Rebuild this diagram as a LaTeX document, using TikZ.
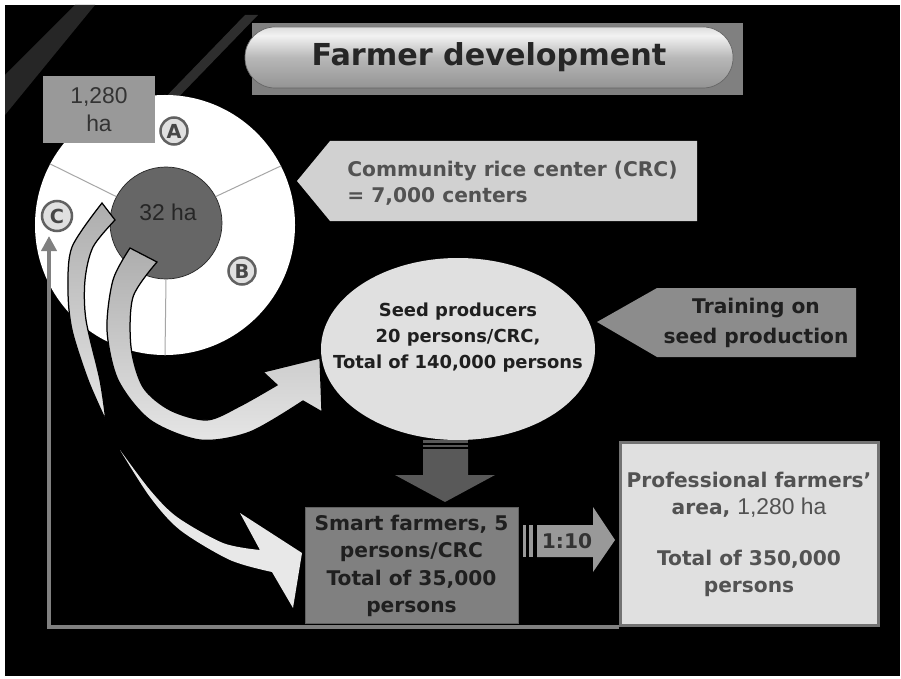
\documentclass[tikz,border=0pt]{standalone}
\usepackage{fontspec}
\setmainfont{DejaVu Sans}
\newfontfamily\arialfont{Liberation Sans}
\usetikzlibrary{arrows.meta, positioning, shapes, calc}
\pgfdeclareverticalshading{pill}{100bp}{color(0bp)=(black!50); color(25bp)=(black!42); color(50bp)=(black!28);
    color(68bp)=(black!5); color(82bp)=(black!22); color(100bp)=(black!55)}

\begin{document}
\begin{tikzpicture}[
    x=0.2mm, y=-0.2mm,
    bold/.style={font=\bfseries\fontsize{11.5}{14.8}\selectfont, align=center, inner sep=0pt},
    titlebar/.style={rectangle, rounded corners=6mm, minimum width=97.6mm, minimum height=12.2mm,
        shading=pill, draw=black!60,
        font=\bfseries\fontsize{17.2}{20}\selectfont, text=black!85},
    areabox/.style={rectangle, fill=black!40, minimum width=22.4mm, minimum height=13.4mm,
        font=\arialfont\fontsize{13}{16}\selectfont, text=black!80, align=center, inner sep=0pt},
    letter/.style={circle, draw=black!62, line width=0.5mm, fill=black!12, minimum size=5.4mm,
        inner sep=0pt, font=\bfseries\fontsize{11}{11}\selectfont, text=black!72},
    field/.style={circle, fill=white, minimum size=52mm, inner sep=0pt},
    hub/.style={circle, fill=black!60, draw=black!85, minimum size=22.4mm, inner sep=0pt},
    divider/.style={black!35, line width=0.2mm},
    callout/.style={fill=black!18},
    band/.style={draw=black, line width=0.25mm, top color=black!32, bottom color=black!10},
    thinband/.style={fill=black!9},
    blockarr/.style={fill=black!65},
    ratioarr/.style={fill=black!40},
    smartbox/.style={rectangle, fill=black!50, draw=black!62, minimum width=42.6mm, minimum height=23.2mm},
    profbox/.style={rectangle, fill=black!12, draw=black!55, line width=0.6mm,
        minimum width=51.6mm, minimum height=36.6mm},
    backline/.style={draw=black!50, line width=0.8mm, -{Triangle[length=3mm, width=3mm]}}
]
    % Background
    \useasboundingbox (0,0) rectangle (901,678);
    \fill[white] (0,0) rectangle (901,678);
    \fill[black] (5,5) rectangle (900,676);
    \fill[black!85] (5,75) -- (75,5) -- (95,5) -- (5,115) -- cycle;
    \fill[black!82] (155,108) -- (245,15) -- (258,15) -- (168,108) -- cycle;

    % Title
    \fill[black!50] (252,23) rectangle (743,95);
    \node[titlebar] (title) at (489,57.5) {Farmer development};

    % Field with the center plot
    \node[field] (field) at (165,225) {};
    \node[hub] (hub) at (166,223) {};
    \draw[divider] (hub.152) -- (field.152);
    \draw[divider] (hub.28) -- (field.27);
    \draw[divider] (hub.270) -- (field.270);
    \node[font=\arialfont\fontsize{13}{13}\selectfont, text=black!85] (hubtxt) at (168,212) {32 ha};
    \node[areabox] (area) at (99,109.5) {1,280\\ha};
    \node[letter] (la) at (174,131) {A};
    \node[letter] (lb) at (242,271) {B};
    \node[letter, minimum size=6mm] (lc) at (57,216) {C};

    % Link back to C
    \coordinate (ctip) at (49,236);

    % CRC callout
    \fill[callout] (297,181) -- (330,141) -- (697,141) -- (697,221) -- (330,221) -- cycle;
    \node[bold, align=left, anchor=west, text=black!68] (crc) at (347,183)
        {Community rice center (CRC)\\= 7,000 centers};

    % Seed producers
    \node[ellipse, fill=black!12, minimum width=54.8mm, minimum height=36.4mm] (seed) at (458,349) {};
    \node[bold, font=\bfseries\fontsize{10.2}{14.8}\selectfont, text=black!88] (seedtxt) at (458,338)
        {Seed producers\\20 persons/CRC,\\Total of 140,000 persons};

    % Training callout
    \fill[black!45] (597,322) -- (657,288) -- (856,288) -- (856,357) -- (657,357) -- cycle;
    \node[bold, font=\bfseries\fontsize{11.5}{17}\selectfont, text=black!88] (train) at (756,323)
        {Training on\\seed production};

    % Curved arrows out of the center plot
    \fill[band] plot[smooth] coordinates {(102,203) (72,247) (68,290) (72,330) (88,380) (106,421)}
        -- plot[smooth] coordinates {(106,421) (100,380) (86,320) (85,280) (93,247) (115,220)} -- cycle;
    \fill[band] plot[smooth] coordinates {(130,248) (113,280) (107,330) (118,380) (150,420) (200,440) (250,432) (303,401)}
        -- (322,412) -- (320,358) -- (263,372) -- (277,385)
        -- plot[smooth] coordinates {(277,385) (240,406) (207,420) (170,410) (143,387) (131,347) (133,297) (157,262)} -- cycle;
    \fill[thinband] plot[smooth] coordinates {(120,450) (150,497) (180,530) (230,560) (272,572)}
        -- (293,608) -- (302,553) -- (240,513) -- (260,550)
        -- plot[smooth] coordinates {(260,550) (223,543) (177,517) (150,490) (120,450)} -- cycle;

    % Bottom row
    \node[smartbox] (smart) at (411.5,565) {};
    \node[profbox] (prof) at (749,533.5) {};
    \draw[backline] (prof.south west) -| (ctip);
    \node[smartbox] at (smart) {};
    \node[bold, font=\bfseries\fontsize{11.5}{15.5}\selectfont, text=black!88] (smarttxt) at (411.5,566)
        {Smart farmers, 5\\persons/CRC\\Total of 35,000\\persons};
    \node[bold, font=\bfseries\fontsize{11.5}{15.5}\selectfont, text=black!68] (proftxt) at (749,534.5)
        {Professional farmers'\\area, {\arialfont\mdseries\fontsize{13}{15.5}\selectfont 1,280 ha}\\[4.8mm]Total of 350,000\\persons};

    % Block arrows
    \fill[blockarr] (423,440) rectangle (468,443);
    \fill[blockarr] (423,445) rectangle (468,447);
    \fill[blockarr] (423,449) -- (468,449) -- (468,475) -- (495,475) -- (445,502) -- (395,475) -- (423,475) -- cycle;
    \fill[ratioarr] (523,525) rectangle (526,557);
    \fill[ratioarr] (529,525) rectangle (533,557);
    \fill[ratioarr] (537,525) -- (593,525) -- (593,507) -- (615,540) -- (593,572) -- (593,557) -- (537,557) -- cycle;
    \node[bold, text=black!80] (ratio) at (567,541) {1:10};
\end{tikzpicture}
\end{document}
